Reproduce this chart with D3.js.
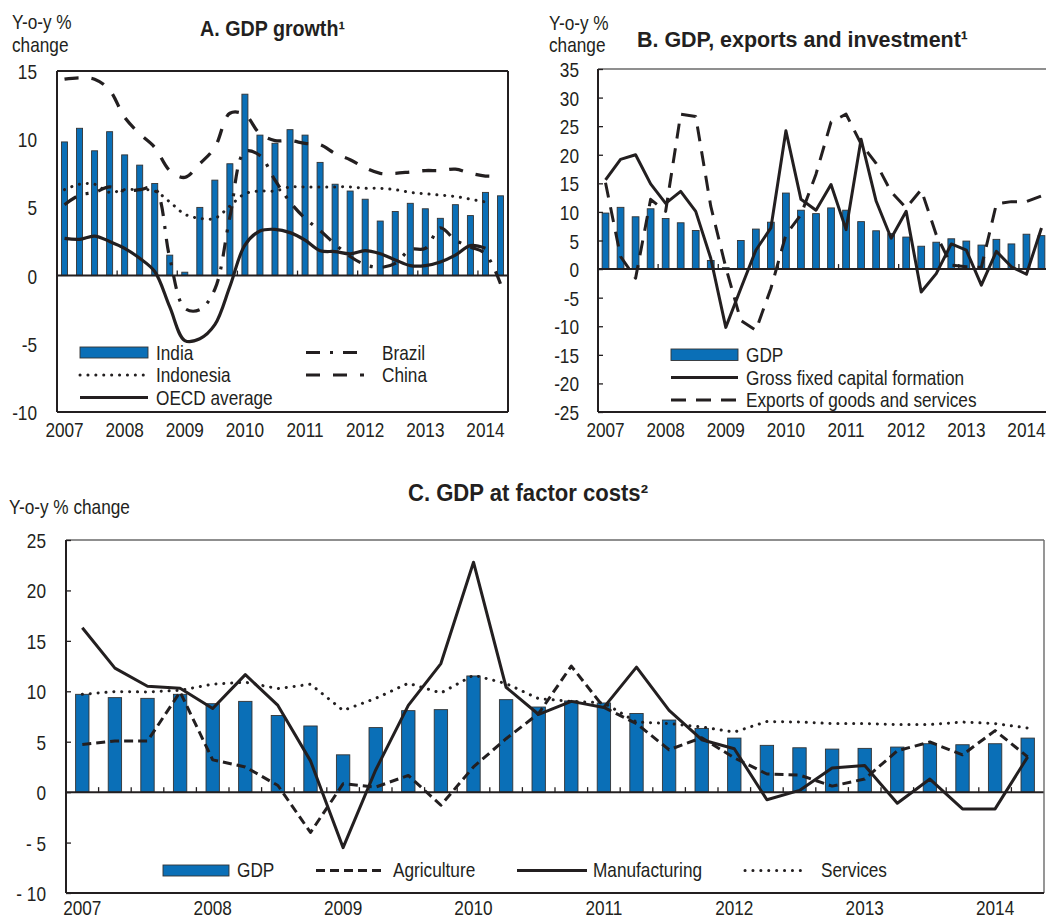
<!DOCTYPE html>
<html><head><meta charset="utf-8">
<script src="https://cdn.jsdelivr.net/npm/d3@7"></script>
<style>
body{margin:0;background:#fff;}
svg text{font-family:"Liberation Sans","Arial",sans-serif;fill:#231f20;font-size:21px;}
svg text.title{font-weight:bold;}
</style></head><body>
<svg id="chart" width="1046" height="918"></svg>
<script>
// ---------- categories ----------
const quarters = ["2007Q1","2007Q2","2007Q3","2007Q4","2008Q1","2008Q2","2008Q3","2008Q4",
  "2009Q1","2009Q2","2009Q3","2009Q4","2010Q1","2010Q2","2010Q3","2010Q4",
  "2011Q1","2011Q2","2011Q3","2011Q4","2012Q1","2012Q2","2012Q3","2012Q4",
  "2013Q1","2013Q2","2013Q3","2013Q4","2014Q1","2014Q2"];
const yearLabels = ["2007","2008","2009","2010","2011","2012","2013","2014"];

// ---------- Panel A: GDP growth ----------
const indiaGDP = [9.8,10.8,9.15,10.55,8.85,8.1,6.75,1.5,0.25,5.0,7.0,8.2,13.3,10.3,9.7,10.7,
  10.3,8.3,6.7,6.2,5.6,4.0,4.7,5.3,4.9,4.2,5.2,4.4,6.1,5.85];
const brazilGDP = [5.2,5.9,6.1,6.5,6.2,6.3,6.4,1.3,-2.4,-2.5,-1.0,4.3,9.1,8.8,7.0,5.4,
  4.2,3.3,2.3,1.4,0.8,0.6,0.9,1.9,2.0,3.5,2.6,2.1,1.6,-0.6];
const indonesiaGDP = [6.3,6.7,6.7,6.1,6.3,6.3,6.2,5.4,4.5,4.2,4.2,5.1,6.0,6.2,6.2,6.5,
  6.5,6.5,6.5,6.5,6.4,6.4,6.3,6.1,6.0,5.9,5.8,5.6,5.4];
const chinaGDP = [14.4,14.5,14.4,13.6,11.6,10.4,9.4,7.7,7.2,8.2,9.4,11.9,11.8,10.4,9.9,9.9,
  9.7,9.6,8.95,8.5,7.9,7.5,7.5,7.6,7.7,7.7,7.8,7.5,7.3,7.3];
const oecdGDP = [2.73,2.66,2.9,2.5,2.0,1.27,0.3,-2.3,-4.76,-4.63,-3.6,-0.8,2.24,3.27,3.39,3.15,
  2.6,1.83,1.76,1.6,1.83,1.6,1.15,0.73,0.73,1.0,1.5,2.2,2.0];
const ticksA = [15,10,5,0,-5,-10];

// ---------- Panel B: GDP, exports and investment ----------
const gdpB = [9.8,10.8,9.15,10.55,8.85,8.1,6.75,1.5,0.25,5.0,7.0,8.2,13.3,10.3,9.7,10.7,
  10.3,8.3,6.7,6.2,5.6,4.0,4.7,5.3,4.9,4.2,5.2,4.4,6.1,5.85];
const gfcfB = [15.6,19.2,20.0,14.9,11.5,13.6,10.1,1.9,-10.2,-3.4,3.3,7.2,24.2,12.2,10.3,14.8,
  6.9,22.7,11.9,5.4,10.1,-4.0,-0.8,4.4,3.3,-2.8,3.1,0.4,-0.9,7.2];
const exportsB = [15.1,2.2,-1.6,12.2,10.1,27.1,26.7,11.0,0.3,-9.0,-10.7,-3.4,6.0,9.5,16.6,25.7,
  27.1,21.9,18.5,13.5,10.7,13.9,6.0,0.7,0.4,0.3,11.4,11.8,11.8,12.8];
const ticksB = [35,30,25,20,15,10,5,0,-5,-10,-15,-20,-25];

// ---------- Panel C: GDP at factor costs ----------
const gdpC = [9.7,9.37,9.3,9.7,8.77,9.0,7.6,6.56,3.7,6.4,8.08,8.18,11.52,9.17,8.44,9.04,
  8.84,7.8,7.15,6.32,5.36,4.64,4.4,4.27,4.34,4.47,4.8,4.7,4.8,5.36];
const agricultureC = [4.73,5.07,5.07,9.93,3.2,2.5,0.66,-4.0,0.83,0.5,1.66,-1.3,2.5,5.3,7.8,12.5,
  8.4,6.8,4.2,5.4,3.4,1.8,1.7,0.6,1.3,4.1,4.97,3.7,6.1,3.5];
const manufacturingC = [16.3,12.3,10.5,10.3,8.3,11.65,8.6,3.1,-5.5,2.2,8.6,12.75,22.8,10.4,7.7,9.0,
  8.4,12.4,8.1,5.2,4.3,-0.76,0.17,2.4,2.65,-1.1,1.3,-1.66,-1.66,3.5];
const servicesC = [9.7,9.97,9.93,10.1,10.7,10.9,10.27,10.7,8.1,9.3,10.8,9.83,11.6,10.76,9.27,9.0,
  8.85,6.95,6.8,6.46,5.96,7.0,6.95,6.8,6.8,6.7,6.7,6.95,6.8,6.36];
const ticksC = [25,20,15,10,5,0,-5,-10];
const tickLabelsC = ["25","20","15","10","5","0","- 5","- 10"];

// ---------- drawing ----------
const INK = "#231f20", BLUE = "#0a6fb7", FRAME2 = "#6a6a6a";
const NARROW = 0.82;
const svg = d3.select("#chart");

// condensed look: move x/y into a transform and squeeze horizontally
function narrow(sel) {
  sel.each(function () {
    const t = d3.select(this);
    const x = +t.attr("x") || 0, y = +t.attr("y") || 0;
    t.attr("x", null).attr("y", null)
      .attr("transform", `translate(${x},${y}) scale(${NARROW},1)`);
  });
  return sel;
}

function panel(p) {
  const g = svg.append("g");
  const x = d3.scaleBand().domain(quarters).range([p.left, p.right])
    .paddingInner(p.pad).paddingOuter(p.pad / 2);
  const y = d3.scaleLinear().domain(p.domain).range([p.bottom, p.top]);
  const cx = q => x(q) + x.bandwidth() / 2;

  // bars
  g.append("g").selectAll("rect").data(p.bars).join("rect")
    .attr("x", (d, i) => x(quarters[i])).attr("width", x.bandwidth())
    .attr("y", d => y(Math.max(0, d))).attr("height", d => Math.abs(y(d) - y(0)))
    .attr("fill", BLUE).attr("stroke", "#333").attr("stroke-width", 0.9);

  // zero line
  g.append("line").attr("x1", p.left).attr("x2", p.right).attr("y1", y(0)).attr("y2", y(0))
    .attr("stroke", INK).attr("stroke-width", 2);
  // small ticks on zero line
  const bounds = quarters.slice(1).filter(q => p.everyQuarter || q.endsWith("Q1"));
  g.append("g").selectAll("line").data(bounds).join("line")
    .attr("x1", q => x(q) - x.step() * x.paddingInner() / 2)
    .attr("x2", q => x(q) - x.step() * x.paddingInner() / 2)
    .attr("y1", y(0)).attr("y2", y(0) - 5).attr("stroke", INK).attr("stroke-width", 1.3);

  // lines
  p.lines.forEach(L => {
    const gen = d3.line().x((d, i) => cx(quarters[i])).y(d => y(d)).curve(L.curve || d3.curveLinear);
    g.append("path").datum(L.data).attr("d", gen).attr("fill", "none")
      .attr("stroke", INK).attr("stroke-width", L.w || 3)
      .attr("stroke-dasharray", L.dash || null)
      .attr("stroke-linecap", L.cap || "butt").attr("stroke-linejoin", "round");
  });

  // frame
  const f = g.append("g").attr("fill", "none");
  f.append("line").attr("x1", p.left).attr("x2", p.right).attr("y1", p.top).attr("y2", p.top)
    .attr("stroke", p.topColor || INK).attr("stroke-width", p.topW || 2);
  f.append("line").attr("x1", p.right).attr("x2", p.right).attr("y1", p.top).attr("y2", p.bottom)
    .attr("stroke", p.topColor || INK).attr("stroke-width", p.topW || 2);
  f.append("line").attr("x1", p.left).attr("x2", p.left).attr("y1", p.top).attr("y2", p.bottom)
    .attr("stroke", INK).attr("stroke-width", 2);
  f.append("line").attr("x1", p.left).attr("x2", p.right).attr("y1", p.bottom).attr("y2", p.bottom)
    .attr("stroke", INK).attr("stroke-width", 2);

  // y axis
  const ya = d3.axisLeft(y).tickValues(p.ticks)
    .tickFormat((d, i) => p.tickLabels ? p.tickLabels[i] : String(d))
    .tickSizeInner(p.yTickIn ? -5 : 0).tickSizeOuter(0).tickPadding(p.yPad);
  const yg = g.append("g").attr("transform", `translate(${p.left},0)`).call(ya);
  yg.select(".domain").remove();
  yg.selectAll(".tick line").attr("stroke", INK).attr("stroke-width", 1.3);
  yg.selectAll("text").attr("dy", "0.36em");
  narrow(yg.selectAll("text"));

  // x axis (year labels at first quarter)
  const xa = d3.axisBottom(x).tickValues(quarters.filter(q => q.endsWith("Q1")))
    .tickFormat(q => q.slice(0, 4)).tickSize(0).tickPadding(0);
  const xg = g.append("g").attr("transform", `translate(0,${p.labelY})`).call(xa);
  xg.select(".domain").remove();
  xg.selectAll("text").attr("dy", "0").attr("y", 0);
  narrow(xg.selectAll("text"));

  return { g, x, y };
}

// legend helpers
function legRect(x0, y0, w, h) {
  svg.append("rect").attr("x", x0).attr("y", y0).attr("width", w).attr("height", h)
    .attr("fill", BLUE).attr("stroke", "#333").attr("stroke-width", 0.9);
}
function legLine(x0, x1, yy, dash, cap) {
  svg.append("line").attr("x1", x0).attr("x2", x1).attr("y1", yy).attr("y2", yy)
    .attr("stroke", INK).attr("stroke-width", 3).attr("stroke-dasharray", dash || null)
    .attr("stroke-linecap", cap || "butt");
}
function label(x0, yy, txt) {
  return narrow(svg.append("text").attr("x", x0).attr("y", yy).text(txt));
}
function title(x0, yy, txt, size, len) {
  return svg.append("text").attr("class", "title").attr("x", x0).attr("y", yy)
    .style("font-size", size + "px")
    .attr("textLength", len).attr("lengthAdjust", "spacingAndGlyphs").text(txt);
}

const smooth = d3.curveCatmullRom.alpha(0.5);
const DOT = "0.1 7.8", CHINA = "14 13", BRAZIL = "14 10 3 10", EXPORTS = "15 10", AGRI = "9 5";

// Panel A
panel({ left: 57, right: 508, top: 71, bottom: 412, domain: [-10, 15], pad: 0.6,
  bars: indiaGDP, ticks: ticksA, yTickIn: false, yPad: 20, labelY: 437,
  lines: [
    { data: indonesiaGDP, dash: DOT, cap: "round", curve: smooth, w: 3 },
    { data: brazilGDP, dash: BRAZIL, curve: smooth, w: 3.2 },
    { data: chinaGDP, dash: CHINA, curve: smooth, w: 3.3 },
    { data: oecdGDP, curve: smooth, w: 3.2 }
  ] });
label(12, 29, "Y-o-y %"); label(12, 52, "change");
title(200, 36, "A. GDP growth¹", 21.5, 145);
legRect(80, 347, 68, 11); label(156, 359.5, "India");
legLine(306, 364, 352.5, BRAZIL); label(382, 359.5, "Brazil");
legLine(80, 146, 375, DOT, "round"); label(156, 382, "Indonesia");
legLine(306, 364, 375, CHINA); label(382, 382, "China");
legLine(80, 148, 397.5); label(156, 404.5, "OECD average");

// Panel B
panel({ left: 598, right: 1049, top: 69, bottom: 412, domain: [-25, 35], pad: 0.55,
  bars: gdpB, ticks: ticksB, yTickIn: true, yPad: 19, labelY: 437,
  topColor: FRAME2, topW: 1.4,
  lines: [
    { data: exportsB, dash: EXPORTS, w: 3 },
    { data: gfcfB, w: 3 }
  ] });
label(549, 29.5, "Y-o-y %"); label(549, 52, "change");
title(637, 47, "B. GDP, exports and investment¹", 22, 331);
legRect(671, 349, 67, 11.5); label(746, 361.5, "GDP");
legLine(671, 738, 377.5); label(746, 384.5, "Gross fixed capital formation");
legLine(671, 738, 400, EXPORTS); label(746, 407, "Exports of goods and services");

// Panel C
panel({ left: 66, right: 1044, top: 540, bottom: 893, domain: [-10, 25], pad: 0.59,
  bars: gdpC, ticks: ticksC, tickLabels: tickLabelsC, yTickIn: true, yPad: 20, labelY: 915,
  everyQuarter: true, topColor: FRAME2, topW: 1.4,
  lines: [
    { data: servicesC, dash: DOT, cap: "round", w: 3 },
    { data: agricultureC, dash: AGRI, w: 3 },
    { data: manufacturingC, w: 3 }
  ] });
label(9, 514, "Y-o-y % change");
title(408, 501, "C. GDP at factor costs²", 23, 240);
legRect(163, 865, 66, 11); label(237, 877, "GDP");
legLine(316, 386, 870.5, AGRI); label(393, 877, "Agriculture");
legLine(517, 587, 870.5); label(593, 877, "Manufacturing");
legLine(745, 808, 870.5, DOT, "round"); label(821, 877, "Services");
</script></body></html>
